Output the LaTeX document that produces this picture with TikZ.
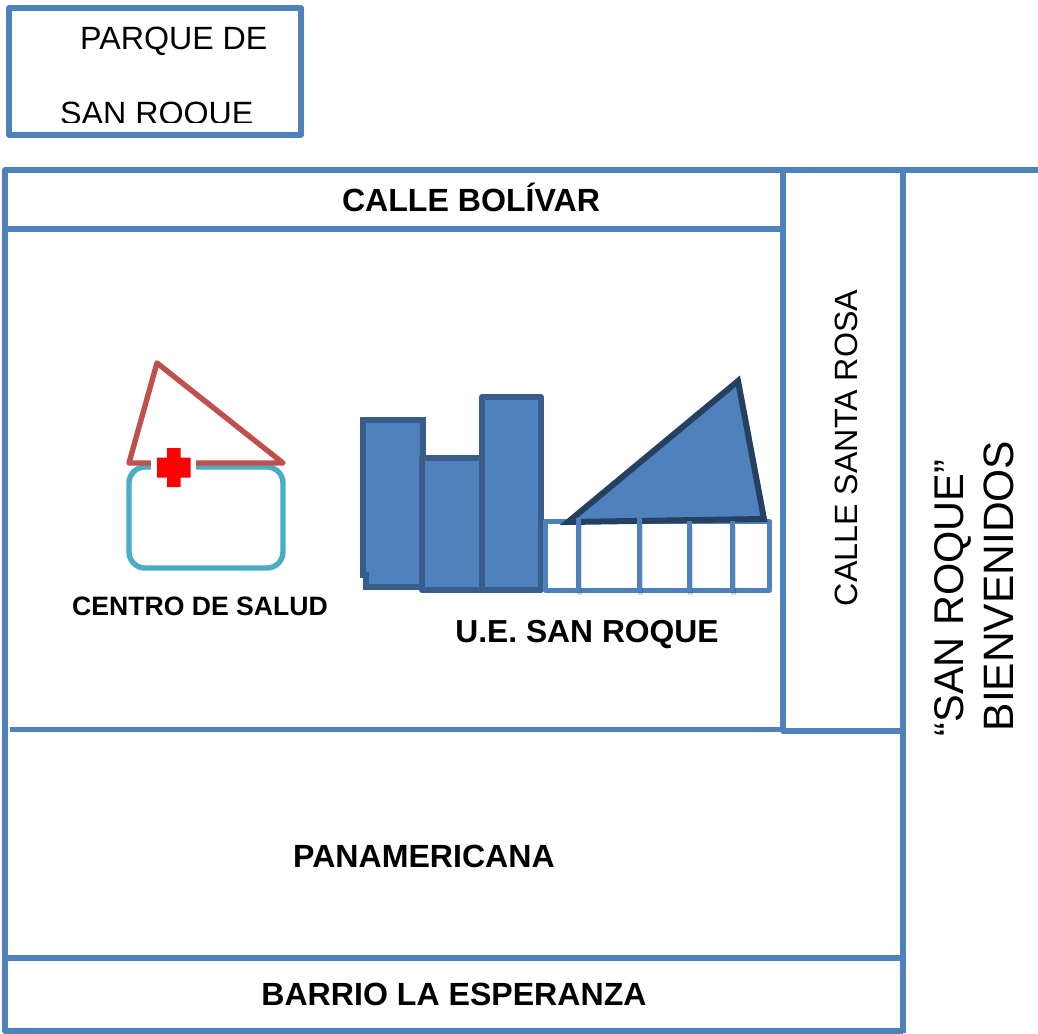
\documentclass[tikz,border=0pt]{standalone}
\usepackage{fontspec}
\setmainfont{Liberation Sans}
\definecolor{road}{HTML}{4F81BD}
\definecolor{bldedge}{HTML}{385D8A}
\definecolor{roofedge}{HTML}{254061}
\definecolor{roofred}{HTML}{C0504D}
\definecolor{clinic}{HTML}{4BACC6}
\tikzset{
  road/.style={draw=road,line width=5.4pt,line join=round},
  block/.style={draw=bldedge,fill=road,line width=5.4pt,line join=round},
  pillar/.style={draw=road,line width=5pt},
  plain/.style={font=\fontsize{32.2}{32.2}\selectfont,text=black,inner sep=0pt},
  large/.style={font=\fontsize{42.5}{42.5}\selectfont,text=black,inner sep=0pt},
  bold/.style={font=\fontsize{32.1}{32.1}\selectfont\bfseries,text=black,inner sep=0pt},
  small/.style={font=\fontsize{26.6}{26.6}\selectfont\bfseries,text=black,inner sep=0pt}
}
\begin{document}
\begin{tikzpicture}[x=1pt,y=-1pt]
\useasboundingbox (0,0) rectangle (1038,1033);
% park box
\begin{scope}
\clip (0,0) rectangle (300,122);
\node[plain,anchor=base west] (parque) at (80,50) {PARQUE DE};
\node[plain,anchor=base west] (sanroque) at (60,124) {SAN ROQUE};
\end{scope}
\draw[road] (9,8) rectangle (301,135);
% road grid
\draw[road] (1038,170) -- (5,170) -- (5,1031) -- (903,1031);
\draw[road] (5,229) -- (783,229);
\draw[road] (10,729.5) -- (783,729.5);
\draw[road] (783,170) -- (783,731) -- (906,731);
\draw[road] (903,170) -- (903,1033);
\draw[road] (5,958) -- (903,958);
% labels
\node[bold] (bolivar) at (471,197) {CALLE BOLÍVAR};
\node[plain,rotate=90] (rosa) at (846,448) {CALLE SANTA ROSA};
\node[large,rotate=90] (bienv) at (999,586) {BIENVENIDOS};
\node[large,rotate=90,font=\fontsize{41.5}{41.5}\selectfont] (srq) at (953,598) {“SAN ROQUE”};
\node[bold] (pan) at (424,856) {PANAMERICANA};
\node[bold] (barrio) at (454,994) {BARRIO LA ESPERANZA};
\node[small] (cs) at (200,606) {CENTRO DE SALUD};
\node[bold,font=\fontsize{31.8}{31.8}\selectfont\bfseries] (ue) at (587,635) {U.E. SAN ROQUE};
% health centre
\draw[clinic,line width=5.4pt,rounded corners=16pt] (129,467) rectangle (283,568);
\draw[roofred,line width=5.4pt,line join=round] (129,463) -- (157,363) -- (283,463) -- cycle;
\fill[white] (151,455) rectangle (196,485);
\fill[red] (157,457.7) -- (167,457.7) -- (167,448) -- (180.5,448) -- (180.5,457.7) -- (190.5,457.7) -- (190.5,477.7) -- (180.5,477.7) -- (180.5,487) -- (167,487) -- (167,477.7) -- (157,477.7) -- cycle;
% school
\draw[block,line join=miter] (363,575) -- (363,420) -- (423,420) -- (423,587) -- (366,587) -- (366,575) -- cycle;
\draw[block] (422,458) rectangle (482,590);
\draw[block] (482,397) rectangle (541,590);
\draw[road,line width=5pt,line join=round] (545,521) rectangle (769,590);
\draw[roofedge,fill=road,line width=6pt,line join=miter] (568,522) -- (738,381) -- (764,519) -- cycle;
\foreach \px/\pa/\pb in {578/518/592,639/518/592,689/521/592,732/521/592}{
  \fill[black,opacity=.15] (\px-1,\pa+6) rectangle (\px+4,\pb+3);
  \draw[pillar] (\px,\pa) -- (\px,\pb);
}
\end{tikzpicture}
\end{document}
